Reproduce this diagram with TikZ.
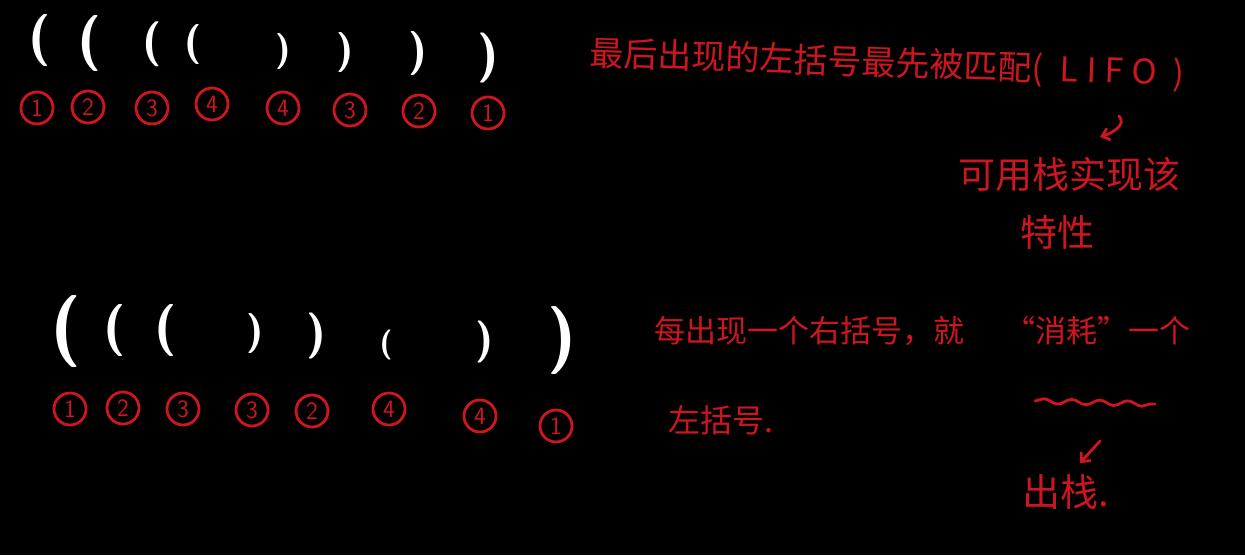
\documentclass[tikz,border=0pt]{standalone}
\usepackage{fontspec}
\newfontfamily\cjk{Noto Sans CJK SC}
\usetikzlibrary{arrows.meta,decorations.pathmorphing}
\definecolor{hred}{RGB}{205,22,32}
\newcommand\szf[1]{\fontsize{#1}{#1}\selectfont}
\tikzset{
  paren/.style={text=white, inner sep=0pt},
  num/.style={circle, draw=hred, line width=2.8pt, minimum size=32pt, inner sep=0pt, text=hred, font=\sffamily\szf{25}},
  note/.style={text=hred, inner sep=0pt, anchor=west},
  pen/.style={draw=hred, line width=2.8pt, line cap=round},
}
\begin{document}
\begin{tikzpicture}[x=1pt,y=-1pt]
\fill[black] (0,0) rectangle (1245,555);
\useasboundingbox (0,0) rectangle (1245,555);
% top row brackets
\node[paren, font=\sffamily\bfseries\szf{52}] (p1) at (40,40) {(};
\node[paren, font=\sffamily\bfseries\szf{56}] (p2) at (89,43) {(};
\node[paren, font=\sffamily\bfseries\szf{45}] (p3) at (152,44) {(};
\node[paren, font=\sffamily\bfseries\szf{40}] (p4) at (193,44) {(};
\node[paren, font=\sffamily\bfseries\szf{36}] (p5) at (283,51) {)};
\node[paren, font=\sffamily\bfseries\szf{40}] (p6) at (345,52) {)};
\node[paren, font=\sffamily\bfseries\szf{44}] (p7) at (418,53) {)};
\node[paren, font=\sffamily\bfseries\szf{50}] (p8) at (488,58) {)};
% top row numbers
\node[num] (n1) at (37,108) {1};
\node[num] (n2) at (88,107) {2};
\node[num] (n3) at (152,108) {3};
\node[num] (n4) at (212,104) {4};
\node[num] (n5) at (283,108) {4};
\node[num] (n6) at (350,110) {3};
\node[num] (n7) at (419,111) {2};
\node[num] (n8) at (488,113) {1};
% bottom row brackets
\node[paren, font=\sffamily\bfseries\szf{72}] (q1) at (66,331) {(};
\node[paren, font=\sffamily\bfseries\szf{52}] (q2) at (115,330) {(};
\node[paren, font=\sffamily\bfseries\szf{52}] (q3) at (166,330) {(};
\node[paren, font=\sffamily\bfseries\szf{40}] (q4) at (255,333) {)};
\node[paren, font=\sffamily\bfseries\szf{46}] (q5) at (316,336) {)};
\node[paren, font=\sffamily\bfseries\szf{30}] (q6) at (386,345) {(};
\node[paren, font=\sffamily\bfseries\szf{42}] (q7) at (484,342) {)};
\node[paren, font=\sffamily\bfseries\szf{68}] (q8) at (562,340) {)};
% bottom row numbers
\node[num] (m1) at (70,409) {1};
\node[num] (m2) at (123,408) {2};
\node[num] (m3) at (183,409) {3};
\node[num] (m4) at (252,410) {3};
\node[num] (m5) at (312,411) {2};
\node[num] (m6) at (389,409) {4};
\node[num] (m7) at (480,416) {4};
\node[num] (m8) at (556,426) {1};
% notes
\node[note, font=\cjk\szf{34}, rotate=-2] (t1) at (590,54) {最后出现的左括号最先被匹配{\addfontfeature{LetterSpace=25}( LIFO )}};
\node[note, font=\cjk\szf{37}] (t2) at (958,174) {可用栈实现该};
\node[note, font=\cjk\szf{37}] (t3) at (1020,232) {特性};
\coordinate (h1) at (1119,116);
\coordinate (h2) at (1100,137);
\draw[pen, -{Straight Barb[length=7pt,width=12pt]}] (h1) .. controls (1127,125) and (1112,133) .. (h2);
\node[note, font=\cjk\szf{31}] (b1) at (654,331) {每出现一个右括号，就\hspace{40pt}“消耗”一个};
\node[note, font=\cjk\szf{32}] (b2) at (668,420) {左括号.};
\coordinate (w1) at (1035,401);
\coordinate (w2) at (1155,404);
\draw[pen, decorate, decoration={snake, amplitude=2.5pt, segment length=28pt}] (w1) -- (w2);
\coordinate (a1) at (1100,441);
\coordinate (a2) at (1080,463);
\draw[pen, -{Straight Barb[length=7pt,width=13pt]}] (a1) -- (a2);
\node[note, font=\cjk\szf{38}] (b3) at (1022,492) {出栈.};
\end{tikzpicture}
\end{document}
